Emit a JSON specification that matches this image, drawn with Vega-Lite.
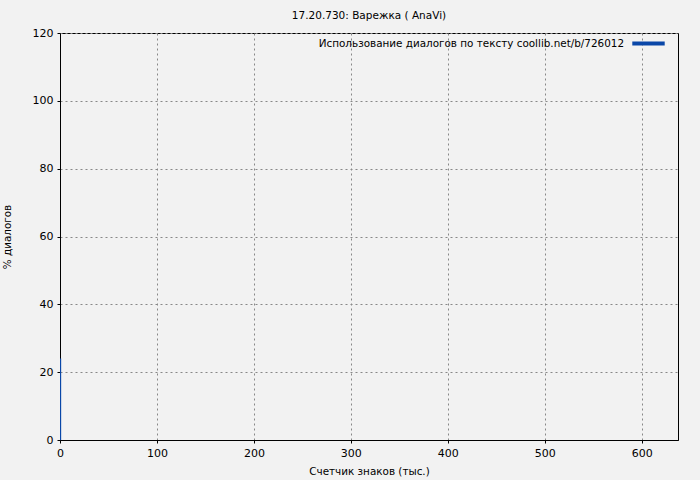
{
  "$schema": "https://vega.github.io/schema/vega-lite/v6.json",
  "width": 618,
  "height": 407,
  "autosize": {"type": "none"},
  "padding": {"left": 60, "top": 33, "right": 22, "bottom": 40},
  "background": "#f2f2f2",
  "config": {
    "view": {"stroke": "#000000", "strokeWidth": 1, "fill": "#f2f2f2"},
    "font": "DejaVu Sans",
    "axis": {
      "labelFont": "DejaVu Sans",
      "titleFont": "DejaVu Sans",
      "labelFontSize": 11,
      "titleFontSize": 10.4,
      "titleFontWeight": "normal",
      "labelColor": "#000000",
      "titleColor": "#000000",
      "domainColor": "#000000",
      "tickColor": "#000000",
      "tickSize": 3,
      "labelFlush": false,
      "gridColor": "#888888",
      "gridDash": [2, 3],
      "gridOpacity": 1
    }
  },
  "title": {
    "text": "17.20.730: Варежка ( AnaVi)",
    "font": "DejaVu Sans",
    "fontSize": 10.5,
    "fontWeight": "normal",
    "color": "#000000",
    "offset": 4
  },
  "data": {
    "values": [
      {"start": 0, "end": 1.2, "pct": 24, "series": "Использование диалогов по тексту coollib.net/b/726012"}
    ]
  },
  "mark": {"type": "rect"},
  "encoding": {
    "x": {
      "field": "start",
      "type": "quantitative",
      "scale": {"domain": [0, 637.4], "nice": false},
      "axis": {"values": [0, 100, 200, 300, 400, 500, 600], "title": "Счетчик знаков (тыс.)", "titlePadding": 8, "labelPadding": 4}
    },
    "x2": {"field": "end"},
    "y": {
      "field": "pct",
      "type": "quantitative",
      "scale": {"domain": [0, 120], "nice": false},
      "axis": {"values": [0, 20, 40, 60, 80, 100, 120], "title": "% диалогов", "titlePadding": 20, "labelPadding": 4}
    },
    "y2": {"datum": 0},
    "color": {
      "field": "series",
      "type": "nominal",
      "scale": {"range": ["#0a47a8"]},
      "legend": {
        "title": null,
        "orient": "none",
        "legendX": 570,
        "legendY": -8,
        "symbolType": "stroke",
        "symbolStrokeWidth": 4,
        "symbolSize": 1050,
        "symbolStrokeColor": "#0a47a8",
        "labelAlign": "right",
        "labelOffset": -43,
        "labelFont": "DejaVu Sans",
        "labelFontSize": 10.4,
        "labelColor": "#000000",
        "labelLimit": 0
      }
    }
  }
}
